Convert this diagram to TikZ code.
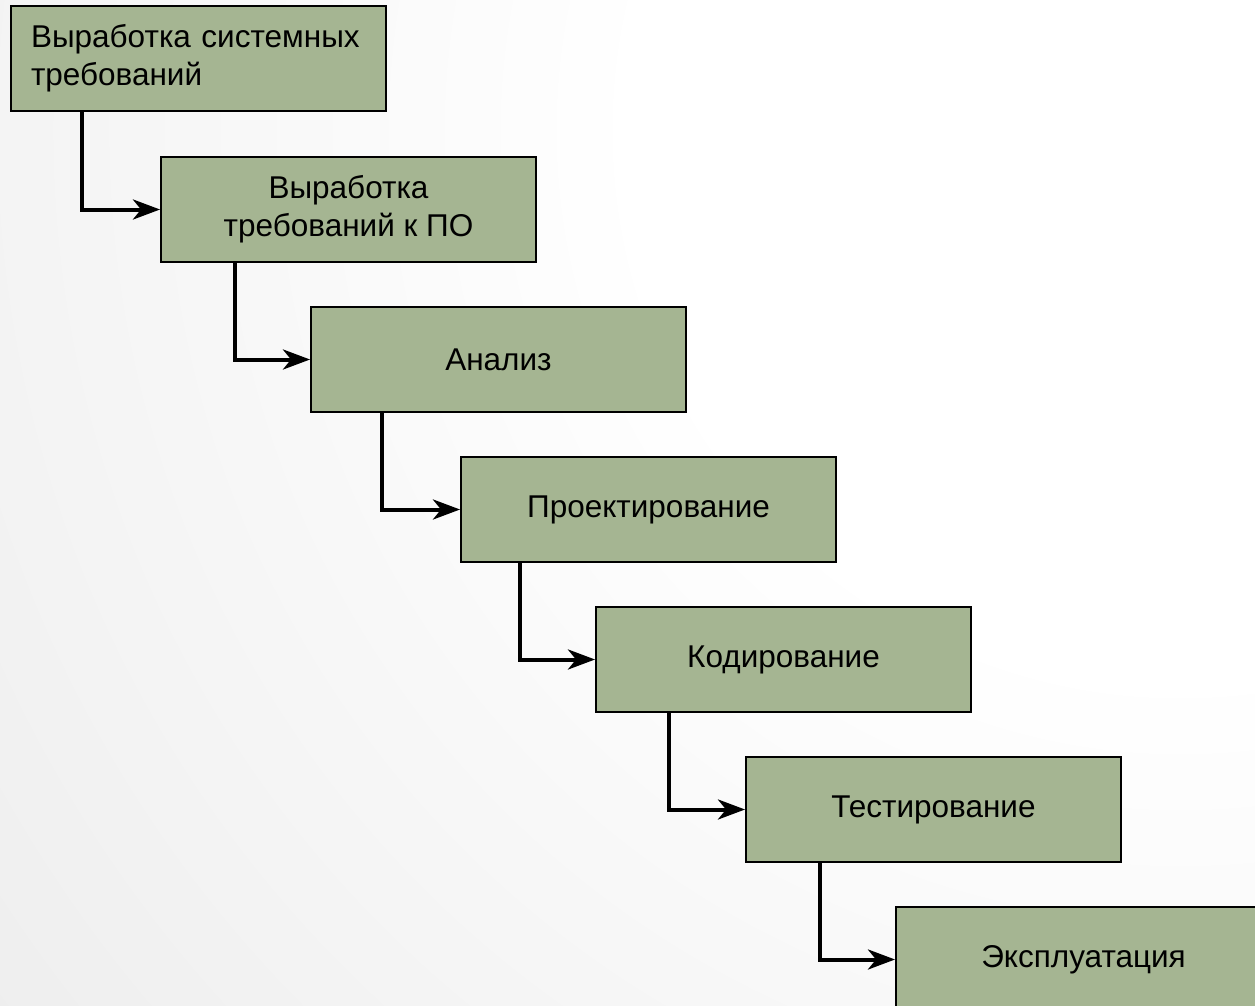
\documentclass[tikz,border=0pt]{standalone}
\usepackage{fontspec}
\setmainfont{Liberation Sans}
\usetikzlibrary{arrows.meta}
\definecolor{boxfill}{RGB}{165,181,146}
\definecolor{bgouter}{RGB}{211,211,211}
\pgfdeclareradialshading{bgglow}{\pgfpoint{0bp}{0bp}}{color(0bp)=(white); color(9bp)=(white); color(50bp)=(bgouter)}
\begin{document}
\begin{tikzpicture}[x=1pt,y=-1pt,
  stage/.style={draw=black, line width=2pt, fill=boxfill,
    minimum width=375pt, minimum height=105pt, inner sep=0pt,
    anchor=north west, font=\fontsize{31.5}{38}\selectfont, align=center},
  link/.style={line width=4pt, -{Stealth[length=27pt,width=20pt,inset=8pt]}}]
\useasboundingbox (0,0) rectangle (1255,1006);
\clip (0,0) rectangle (1255,1006);
\path[shading=bgglow] (1180,130) circle (1500pt);
\node[stage, align=left, text width=335pt] (b1) at (10,5) {Выработка системных\\требований};
\node[stage] (b2) at (160,156) {Выработка\\требований к ПО};
\node[stage] (b3) at (310,306) {Анализ};
\node[stage] (b4) at (460,456) {Проектирование};
\node[stage] (b5) at (595,606) {Кодирование};
\node[stage] (b6) at (745,756) {Тестирование};
\node[stage] (b7) at (895,906) {Эксплуатация};
\draw[link] ([xshift=72pt]b1.south west) |- (b2.west);
\draw[link] ([xshift=75pt]b2.south west) |- (b3.west);
\draw[link] ([xshift=72pt]b3.south west) |- (b4.west);
\draw[link] ([xshift=60pt]b4.south west) |- (b5.west);
\draw[link] ([xshift=74pt]b5.south west) |- (b6.west);
\draw[link] ([xshift=75pt]b6.south west) |- (b7.west);
\end{tikzpicture}
\end{document}
